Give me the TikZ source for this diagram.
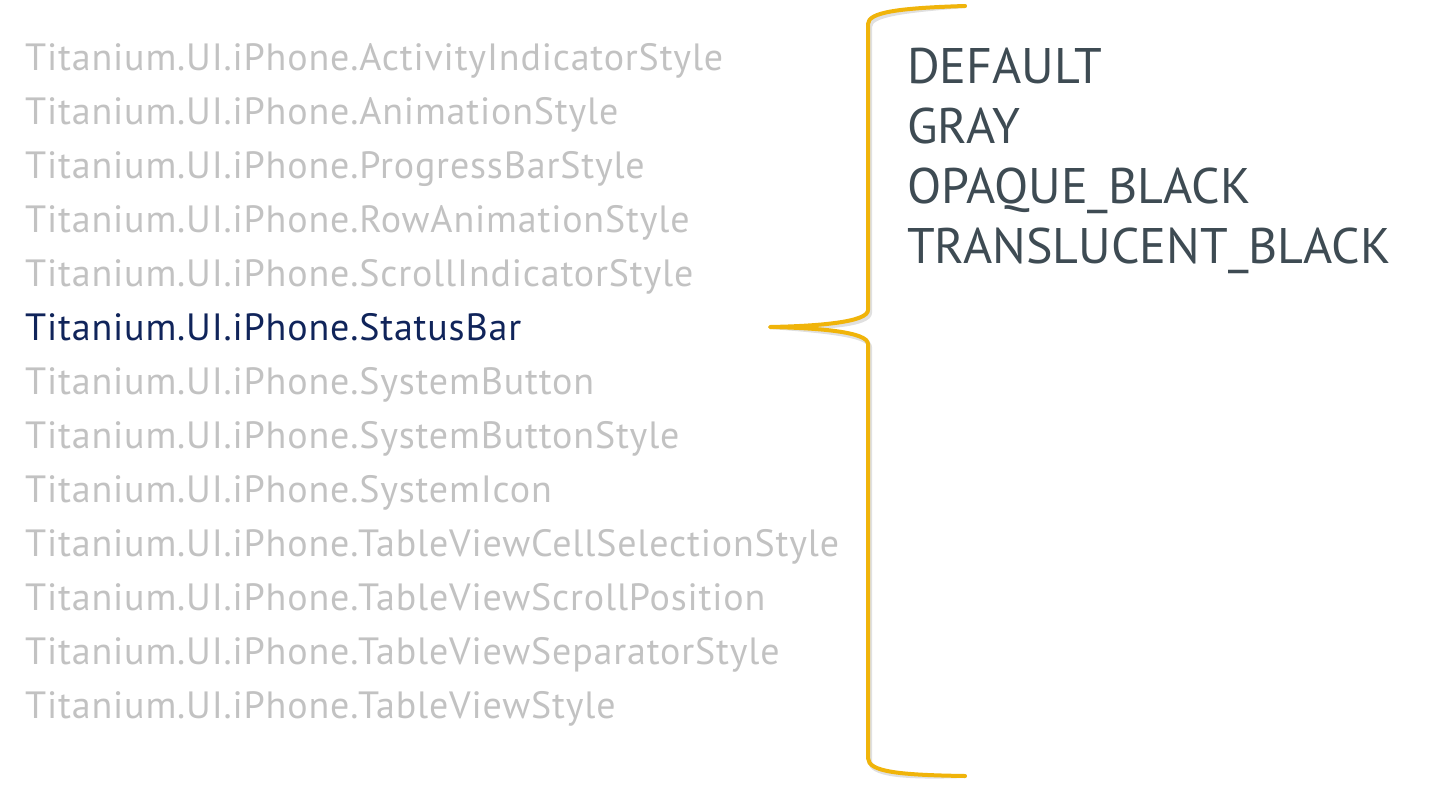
\documentclass[tikz,border=0pt]{standalone}
\usepackage{fontspec}
\setmainfont{PT Sans}
\newfontfamily\listfont[LetterSpace=2.2]{PT Sans}
\usetikzlibrary{positioning}
\definecolor{listgray}{HTML}{C2C2C2}
\definecolor{activeblue}{HTML}{10245A}
\definecolor{valuegray}{HTML}{3E4B53}
\definecolor{bracegold}{HTML}{F0B40A}

\begin{document}
\begin{tikzpicture}[x=1pt,y=-1pt,
    item/.style={anchor=base west,inner sep=0pt,text=listgray,font=\listfont\fontsize{38}{42}\selectfont},
    value/.style={anchor=base west,inner sep=0pt,text=valuegray,font=\fontsize{50}{56}\selectfont},
    brace/.style={draw=bracegold,line width=4pt,line cap=round,line join=round}]

  \useasboundingbox (0,0) rectangle (1433,788);

  % class list, the chosen one in blue
  \foreach \name [count=\i] in {ActivityIndicatorStyle,AnimationStyle,ProgressBarStyle,
      RowAnimationStyle,ScrollIndicatorStyle,StatusBar,SystemButton,SystemButtonStyle,
      SystemIcon,TableViewCellSelectionStyle,TableViewScrollPosition,
      TableViewSeparatorStyle,TableViewStyle}{
    \ifnum\i=6 \def\itemcol{activeblue}\else\def\itemcol{listgray}\fi
    \node[item,text=\itemcol] (item\i) at (25,{70+54*(\i-1)}) {Titanium.UI.iPhone.\name};
  }

  % constants
  \node[value] (val1) at (907,83) {DEFAULT};
  \node[value] (val2) at (907,143) {GRAY};
  \node[value] (val3) at (907,203) {OPAQUE\_BLACK};
  \node[value] (val4) at (907,263) {TRANSLUCENT\_BLACK};

  % brace
  \coordinate (top) at (965,6);
  \coordinate (tip) at (770,327);
  \coordinate (bot) at (965,776);
  \draw[brace,draw=black,opacity=0.12,shift={(2,3)}]
    (top) .. controls (900,8) and (868,12) .. (868,24) -- (868,310)
    .. controls (868,322) and (820,326) .. (tip)
    .. controls (820,328) and (868,332) .. (868,344) -- (868,758)
    .. controls (868,772) and (900,775) .. (bot);
  \draw[brace]
    (top) .. controls (900,8) and (868,12) .. (868,24) -- (868,310)
    .. controls (868,322) and (820,326) .. (tip)
    .. controls (820,328) and (868,332) .. (868,344) -- (868,758)
    .. controls (868,772) and (900,775) .. (bot);
\end{tikzpicture}
\end{document}
